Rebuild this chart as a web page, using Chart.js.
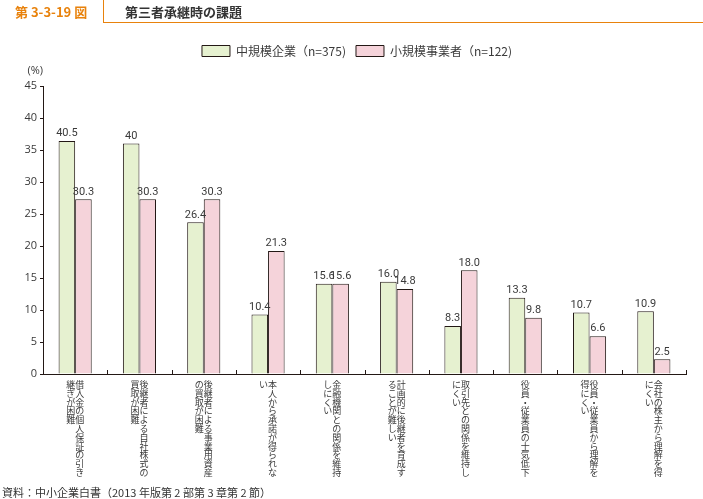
<!DOCTYPE html>
<html lang="ja">
<head>
<meta charset="utf-8">
<script src="https://cdn.jsdelivr.net/npm/chart.js@4.4.0/dist/chart.umd.min.js"></script>
<style>
    html, body { margin: 0; padding: 0; background: #fff; }
    #wrap { position: relative; width: 703px; height: 499px; overflow: hidden; }
    #chart { position: absolute; left: 0; top: 0; }
    .fig-no { position: absolute; left: 15px; top: 2px; font: bold 13px "Noto Sans CJK JP", sans-serif; color: #e8820c; }
    .fig-title { position: absolute; left: 125px; top: 2px; font: bold 13px "Noto Sans CJK JP", sans-serif; color: #333; }
    .tab-v { position: absolute; left: 103px; top: 0; width: 1.3px; height: 23px; background: #e8820c; }
    .tab-h { position: absolute; left: 103px; top: 22px; width: 600px; height: 1.3px; background: #e8820c; }
    .source { position: absolute; left: 2px; top: 484px; font: 11px "Noto Sans CJK JP", sans-serif; color: #333; }
</style>
</head>
<body>
<div id="wrap">
    <canvas id="chart" width="703" height="499"></canvas>
    <div class="tab-v"></div>
    <div class="tab-h"></div>
    <div class="fig-no">第 3-3-19 図</div>
    <div class="fig-title">第三者承継時の課題</div>
    <div class="source">資料：中小企業白書（2013 年版第 2 部第 3 章第 2 節）</div>
</div>
<script>
// category labels, one entry per column of vertical text (right column first)
const categories = [
    ['借入金の個人保証の引き', '継ぎが困難'],
    ['後継者による自社株式の', '買取が困難'],
    ['後継者による事業用資産', 'の買取が困難'],
    ['本人から承諾が得られな', 'い'],
    ['金融機関との関係を維持', 'しにくい'],
    ['計画的に後継者を育成す', 'ることが難しい'],
    ['取引先との関係を維持し', 'にくい'],
    ['役員・従業員の士気低下'],
    ['役員・従業員から理解を', '得にくい'],
    ['会社の株主から理解を得', 'にくい']
];

const seriesNames = ['中規模企業（n=375)', '小規模事業者（n=122)'];

// bar heights as drawn against the axis in the picture
const mediumHeights = [36.4, 36.0, 23.7, 9.3, 14.1, 14.4, 7.5, 11.9, 9.6, 9.8];
const smallHeights = [27.3, 27.3, 27.3, 19.2, 14.1, 13.3, 16.2, 8.8, 5.9, 2.3];

// printed value labels
const mediumLabels = ['40.5', '40', '26.4', '10.4', '15.6', '16.0', '8.3', '13.3', '10.7', '10.9'];
const smallLabels = ['30.3', '30.3', '30.3', '21.3', '15.6', '14.8', '18.0', '9.8', '6.6', '2.5'];

const yTicks = [0, 5, 10, 15, 20, 25, 30, 35, 40, 45];

const INK = '#231815';
const TEXT = '#3a3a3a';
const NUM_FONT = '"Open Sans", "Noto Sans", sans-serif';
const LABEL_FONT = 'Roboto, "Open Sans", sans-serif';
const JP_FONT = '"Noto Sans CJK JP", sans-serif';

// empty box between legend and plot so the plot starts lower;
// also nudges the legend right to where it sits in the original
const spacerPlugin = {
    id: 'spacer',
    beforeInit(chart) {
        Chart.layouts.addBox(chart, {
            position: 'top',
            weight: 0,
            fullSize: true,
            options: {},
            isHorizontal() { return true; },
            getPadding() { return { top: 0, left: 0, right: 0, bottom: 0 }; },
            update(maxWidth) {
                this.width = maxWidth;
                this.height = 19;
                return { width: this.width, height: this.height };
            },
            draw() {}
        });
    },
    afterLayout(chart) {
        if (chart.legend) {
            chart.legend.left += 14;
            chart.legend.right += 14;
        }
    }
};

// value labels, axis unit, category tick marks and vertical category text
const decorPlugin = {
    id: 'decor',
    afterDatasetsDraw(chart) {
        const ctx = chart.ctx;
        const area = chart.chartArea;
        const xScale = chart.scales.x;
        const labelSets = [mediumLabels, smallLabels];

        ctx.save();
        ctx.fillStyle = TEXT;
        ctx.font = '11px ' + LABEL_FONT;
        ctx.textAlign = 'center';
        ctx.textBaseline = 'bottom';
        chart.data.datasets.forEach((ds, di) => {
            chart.getDatasetMeta(di).data.forEach((bar, i) => {
                ctx.fillText(labelSets[di][i], bar.x, bar.y - 2);
            });
        });

        // unit
        ctx.font = '11px ' + NUM_FONT;
        ctx.textAlign = 'right';
        ctx.textBaseline = 'middle';
        ctx.fillText('(%)', area.left, area.top - 15);

        // category boundary ticks, pointing up from the axis
        ctx.strokeStyle = INK;
        ctx.lineWidth = 1;
        const step = (area.right - area.left) / categories.length;
        ctx.beginPath();
        for (let i = 1; i <= categories.length; i++) {
            const x = Math.round(area.left + i * step) + 0.5;
            ctx.moveTo(x, area.bottom);
            ctx.lineTo(x, area.bottom - 4);
        }
        ctx.stroke();

        // vertical Japanese category text
        ctx.font = '9px ' + JP_FONT;
        ctx.textAlign = 'center';
        ctx.textBaseline = 'top';
        const colGap = 9;
        const pitch = 8.8;
        categories.forEach((cols, i) => {
            const cx = xScale.getPixelForValue(i);
            const n = cols.length;
            cols.forEach((col, c) => {
                const x = cx + ((n - 1) / 2 - c) * colGap;
                Array.from(col).forEach((ch, k) => {
                    ctx.fillText(ch, x, area.bottom + 6 + k * pitch);
                });
            });
        });
        ctx.restore();
    }
};

const chart = new Chart(document.getElementById('chart'), {
    type: 'bar',
    data: {
        labels: categories.map(c => c.join('')),
        datasets: [{
            label: seriesNames[0],
            data: mediumHeights,
            backgroundColor: '#e6f1d0',
            borderColor: INK,
            borderWidth: 1
        }, {
            label: seriesNames[1],
            data: smallHeights,
            backgroundColor: '#f5d3da',
            borderColor: INK,
            borderWidth: 1
        }]
    },
    options: {
        responsive: false,
        animation: false,
        layout: {
            padding: { top: 35, right: 17, bottom: 117, left: 0 }
        },
        datasets: {
            bar: { categoryPercentage: 0.515, barPercentage: 1 }
        },
        plugins: {
            legend: {
                position: 'top',
                labels: {
                    boxWidth: 28,
                    boxHeight: 11,
                    padding: 10,
                    color: TEXT,
                    font: { size: 12, family: JP_FONT }
                }
            },
            tooltip: { enabled: false }
        },
        scales: {
            x: {
                ticks: { display: false },
                grid: { display: false },
                border: { display: true, color: INK, width: 1 }
            },
            y: {
                min: 0,
                max: 45,
                afterBuildTicks: scale => {
                    scale.ticks = yTicks.map(v => ({ value: v }));
                },
                afterFit: scale => {
                    scale.width = 43;
                },
                ticks: {
                    color: TEXT,
                    padding: 3,
                    font: { size: 11, family: NUM_FONT }
                },
                grid: {
                    drawOnChartArea: false,
                    drawTicks: true,
                    tickLength: 3,
                    color: INK
                },
                border: { display: true, color: INK, width: 1 }
            }
        }
    },
    plugins: [spacerPlugin, decorPlugin]
});
</script>
</body>
</html>
